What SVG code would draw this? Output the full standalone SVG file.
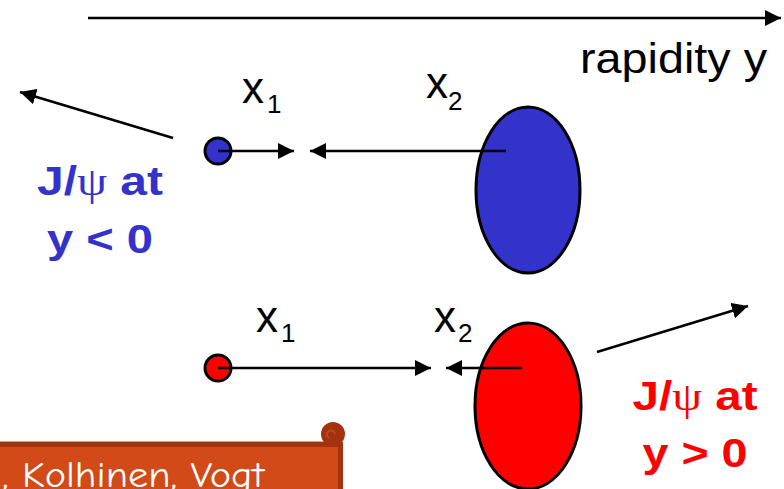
<svg xmlns="http://www.w3.org/2000/svg" width="784" height="489" viewBox="0 0 784 489">
<style>
.lbl{font-family:"Liberation Sans",Arial,sans-serif;fill:#000}
.big{font-family:"Liberation Sans",Arial,sans-serif;font-weight:bold;text-anchor:middle}
.psi{font-family:"Liberation Serif","DejaVu Serif",serif;font-weight:normal}
.ln{stroke:#000;stroke-width:2.5;fill:none}
.node{stroke:#000;stroke-width:3}
</style>
<defs>
<marker id="ah" markerUnits="userSpaceOnUse" viewBox="0 0 16 16" markerWidth="16" markerHeight="16" refX="16" refY="8" orient="auto">
<path d="M0,0 L16,8 L0,16 z" fill="#000"/>
</marker>
</defs>
<g id="banner">
<rect x="-10" y="442" width="353" height="60" fill="#a3320f"/>
<rect x="-10" y="447" width="348" height="50" fill="#d24a17"/>
<line x1="-10" y1="441.5" x2="333" y2="441.5" stroke="#e0a080" stroke-width="1"/>
<circle cx="333" cy="434" r="12" fill="#a3320f"/>
<path d="M329,438 a4,4 0 1 1 6,-4" fill="none" stroke="#c0451a" stroke-width="2"/>
<text x="2" y="487" textLength="262" lengthAdjust="spacingAndGlyphs" font-family="'Comic Neue','Noto Sans',sans-serif" font-size="36" fill="#fff">, Kolhinen, Vogt</text>
</g>
<g id="axis">
<line class="ln" x1="88" y1="18" x2="781" y2="18" marker-end="url(#ah)"/>
<text class="lbl" x="580" y="73" font-size="42" textLength="187" lengthAdjust="spacingAndGlyphs">rapidity y</text>
</g>
<g id="top-nucleus">
<ellipse class="node" cx="528" cy="190" rx="52" ry="83" fill="#3333cc"/>
</g>
<g id="top-proton">
<circle class="node" cx="218" cy="151" r="13" fill="#3333cc"/>
</g>
<g id="bottom-nucleus">
<ellipse class="node" cx="528" cy="406" rx="53" ry="83" fill="#ff0000"/>
</g>
<g id="bottom-proton">
<circle class="node" cx="218" cy="368" r="13" fill="#ff0000"/>
</g>
<g id="connectors">
<line class="ln" x1="218" y1="151" x2="294" y2="151" marker-end="url(#ah)"/>
<line class="ln" x1="506" y1="151" x2="310" y2="151" marker-end="url(#ah)"/>
<line class="ln" x1="218" y1="368" x2="431" y2="368" marker-end="url(#ah)"/>
<line class="ln" x1="522" y1="368" x2="446" y2="368" marker-end="url(#ah)"/>
<line class="ln" x1="173" y1="138" x2="20" y2="92" marker-end="url(#ah)"/>
<line class="ln" x1="597" y1="352" x2="748" y2="306" marker-end="url(#ah)"/>
</g>
<g id="labels">
<text class="lbl" x="242" y="103" font-size="44">x</text>
<text class="lbl" x="267" y="113" font-size="26">1</text>
<text class="lbl" x="426" y="98" font-size="44">x</text>
<text class="lbl" x="448" y="110" font-size="26">2</text>
<text class="lbl" x="256" y="332" font-size="44">x</text>
<text class="lbl" x="281" y="342" font-size="26">1</text>
<text class="lbl" x="434" y="332" font-size="44">x</text>
<text class="lbl" x="458" y="342" font-size="26">2</text>
</g>
<g id="jpsi-neg">
<text class="big" x="100" y="195" font-size="40" fill="#3333cc" textLength="126" lengthAdjust="spacingAndGlyphs">J/<tspan class="psi">ψ</tspan> at</text>
<text class="big" x="100" y="253" font-size="40" fill="#3333cc" textLength="106" lengthAdjust="spacingAndGlyphs">y &lt; 0</text>
</g>
<g id="jpsi-pos">
<text class="big" x="695" y="410" font-size="40" fill="#ff0000" textLength="125" lengthAdjust="spacingAndGlyphs">J/<tspan class="psi">ψ</tspan> at</text>
<text class="big" x="695" y="467" font-size="40" fill="#ff0000" textLength="105" lengthAdjust="spacingAndGlyphs">y &gt; 0</text>
</g>
</svg>
